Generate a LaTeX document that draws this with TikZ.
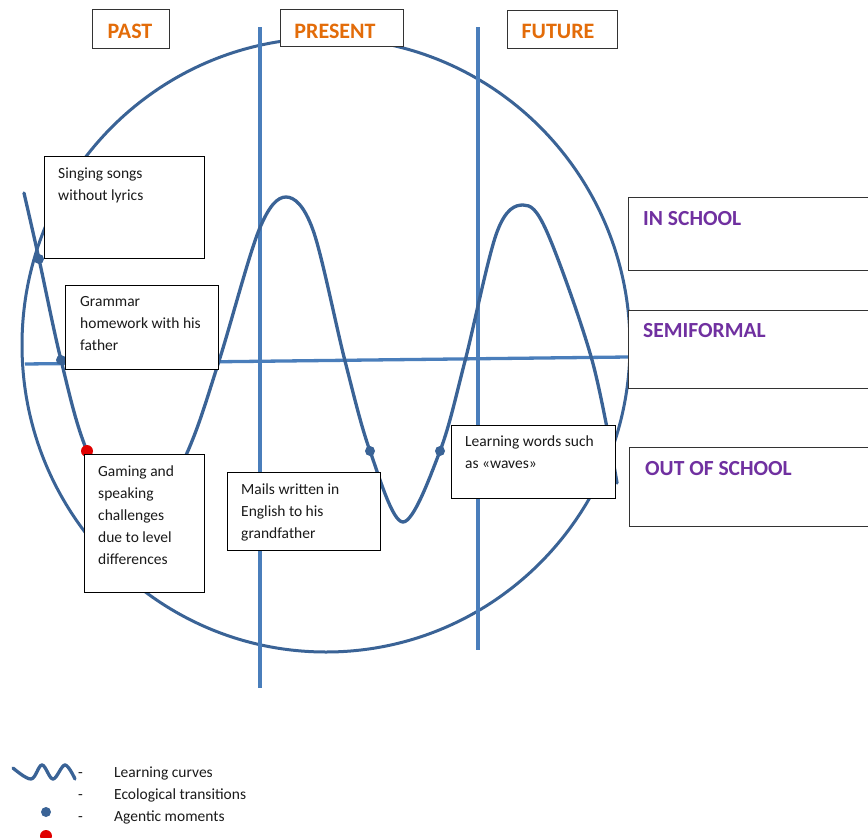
\documentclass[tikz,border=0pt]{standalone}
\usepackage{fontspec}
\setmainfont{Carlito}
\definecolor{curveblue}{HTML}{3A6396}
\definecolor{axisblue}{HTML}{4A7EBB}
\definecolor{headorange}{HTML}{E36C09}
\definecolor{headpurple}{HTML}{7030A0}
\definecolor{textgray}{HTML}{1A1A1A}
\definecolor{dotred}{HTML}{E00000}
\begin{document}
\begin{tikzpicture}[x=1pt,y=-1pt,
  curve/.style={draw=curveblue, line width=3.3pt, line cap=round},
  ring/.style={draw=curveblue, line width=3pt},
  axisline/.style={draw=axisblue, line width=3.3pt},
  txtbox/.style={draw=black, line width=0.8pt, fill=white, rectangle, inner sep=0pt, anchor=north west},
  headbox/.style={draw=black!80, line width=0.8pt, fill=white, rectangle, inner sep=0pt, anchor=north west},
  boxtext/.style={anchor=north west, align=left, font=\fontsize{15.5}{22}\selectfont, text=textgray, inner sep=0pt},
  timetext/.style={anchor=base, font=\fontsize{22}{26}\selectfont\bfseries, text=headorange, inner sep=0pt},
  ecotext/.style={anchor=base west, font=\fontsize{21.5}{26}\selectfont\bfseries, text=headpurple, inner sep=0pt},
  legtext/.style={anchor=base west, font=\fontsize{15.5}{18}\selectfont, text=textgray, inner sep=0pt},
  bluedot/.style={circle, fill=curveblue, minimum size=10pt, inner sep=0pt},
  reddot/.style={circle, fill=dotred, minimum size=12pt, inner sep=0pt},
]
\useasboundingbox (0,0) rectangle (868,838);

% big circle
\draw[ring] (326,345) ellipse [x radius=304pt, y radius=307pt];

% time dividers and horizontal line
\coordinate (v1t) at (260,27);
\coordinate (v1b) at (260,688);
\coordinate (v2t) at (478,27);
\coordinate (v2b) at (478,650);
\coordinate (hl) at (25,364);
\coordinate (hr) at (628,357);
\draw[axisline] (v1t) -- (v1b);
\draw[axisline] (v2t) -- (v2b);
\draw[axisline] (hl) -- (hr);

% learning curve
\draw[curve] plot[smooth, tension=0.55] coordinates {
 (24,193) (39,259) (61,360) (87,451) (137,545) (187,453) (219,361)
 (259,230) (286,197) (313,230) (345,361) (370,451) (403,522) (440,451)
 (465,361) (497,232) (523,205) (547,232) (592,360) (617,483)};

% dots
\node[bluedot] (d1) at (39,259) {};
\node[bluedot] (d2) at (61,360) {};
\node[bluedot] (d3) at (370,451) {};
\node[bluedot] (d4) at (440,451) {};
\node[reddot] (r1) at (87,451) {};

% time heading boxes
\node[headbox, minimum width=77pt, minimum height=39pt] (pastbox) at (92,9) {};
\node[timetext] (past) at (130,38) {PAST};
\node[headbox, minimum width=123pt, minimum height=37pt] (presbox) at (280,9) {};
\node[timetext] (present) at (335,38) {PRESENT};
\node[headbox, minimum width=110pt, minimum height=38pt] (futbox) at (507,10) {};
\node[timetext] (future) at (558,38) {FUTURE};

% ecological boxes
\node[headbox, minimum width=242pt, minimum height=73pt] (inbox) at (628,197) {};
\node[ecotext] (insch) at (643,225) {IN SCHOOL};
\node[headbox, minimum width=242pt, minimum height=78pt] (semibox) at (628,310) {};
\node[ecotext] (semi) at (643,337) {SEMIFORMAL};
\node[headbox, minimum width=241pt, minimum height=79pt] (outbox) at (629,447) {};
\node[ecotext] (outsch) at (645,475) {OUT OF SCHOOL};

% text boxes
\node[txtbox, minimum width=160pt, minimum height=102pt] (b1) at (44,156) {};
\node[boxtext] (t1) at (58,168) {Singing songs\\without lyrics};
\node[txtbox, minimum width=153pt, minimum height=84pt] (b2) at (65,285) {};
\node[boxtext] (t2) at (80,296) {Grammar\\homework with his\\father};
\node[txtbox, minimum width=120pt, minimum height=138pt] (b3) at (84,454) {};
\node[boxtext] (t3) at (98,466) {Gaming and\\speaking\\challenges\\due to level\\differences};
\node[txtbox, minimum width=153pt, minimum height=78pt] (b4) at (227,472) {};
\node[boxtext] (t4) at (241,484) {Mails written in\\English to his\\grandfather};
\node[txtbox, minimum width=164pt, minimum height=73pt] (b5) at (451,425) {};
\node[boxtext] (t5) at (465,436) {Learning words such\\as «waves»};

% legend
\draw[curve] plot[smooth, tension=0.6] coordinates {(13,768) (31,779) (42,765) (53,779) (65,765) (75,779)};
\node[legtext] (dash1) at (78,777) {-};
\node[legtext] (dash2) at (78,799) {-};
\node[legtext] (dash3) at (78,821) {-};
\node[legtext] (l1) at (114,777) {Learning curves};
\node[legtext] (l2) at (114,799) {Ecological transitions};
\node[legtext] (l3) at (114,821) {Agentic moments};
\node[bluedot] (ld1) at (46,812) {};
\node[reddot] (ld2) at (46,836) {};
\end{tikzpicture}
\end{document}
